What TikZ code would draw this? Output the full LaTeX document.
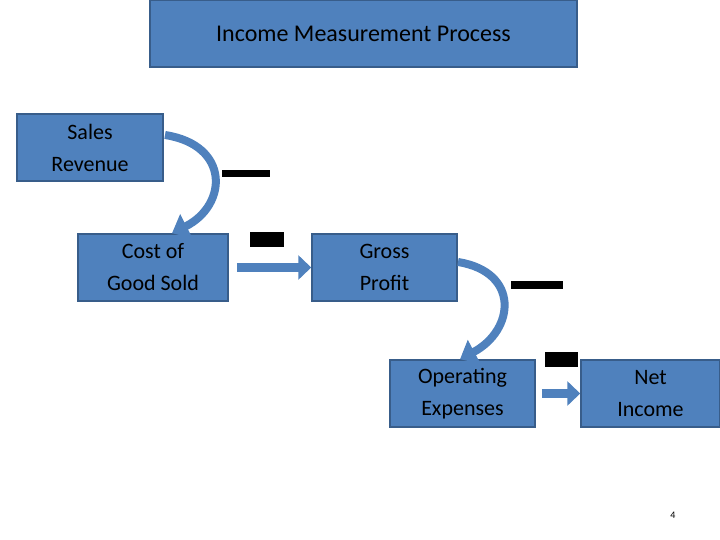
\documentclass[tikz,border=0pt]{standalone}
\usepackage{fontspec}
\setmainfont{Carlito}
\usetikzlibrary{arrows.meta}
\definecolor{bfill}{HTML}{4F81BD}
\definecolor{bedge}{HTML}{385D8A}
\tikzset{
  box/.style={draw=bedge, line width=1.5pt, fill=bfill, align=center, inner sep=0pt,
    font=\fontsize{22}{32}\selectfont},
  bar/.style={fill=black},
  blockarrow/.style={draw=bfill, line width=9pt, -{Triangle[length=13pt,width=24pt]}},
  curvearrow/.style={draw=bfill, line width=8pt, -{Triangle[length=16pt,width=26pt]}}
}
\begin{document}
\begin{tikzpicture}[x=1pt,y=-1pt]
\useasboundingbox (0,0) rectangle (720,540);
\node[box, minimum width=427pt, minimum height=67pt, font=\fontsize{24}{30}\selectfont] (t) at (363.5,33.5) {Income Measurement Process};
\node[box, minimum width=146pt, minimum height=67pt] (sr) at (90,147.5) {Sales\\Revenue};
\node[box, minimum width=150pt, minimum height=67pt] (cg) at (153,267.5) {Cost of\\Good Sold};
\node[box, minimum width=145pt, minimum height=67pt] (gp) at (384.5,267.5) {Gross\\Profit};
\node[box, minimum width=145pt, minimum height=67pt] (oe) at (462.5,393.5) {Operating\\Expenses};
\node[box, minimum width=139pt, minimum height=67pt] (ni) at (650.5,393.5) {Net\\Income};
\fill[bar] (222,170) rectangle (270,177);
\fill[bar] (250,232) rectangle (284,247);
\fill[bar] (511,281) rectangle (563,289);
\fill[bar] (545,352) rectangle (578,367);
\coordinate (c1s) at (165,135);
\coordinate (c2s) at (458,262);
\draw[curvearrow] (c1s) .. controls (230,145) and (228,205) .. (cg.north -| 172,0);
\draw[curvearrow] (c2s) .. controls (520,272) and (515,330) .. (oe.north -| 460,0);
\draw[blockarrow] (cg.east) ++(8,0) coordinate (a1) -- (gp.west) ;
\draw[blockarrow] (oe.east) ++(6,0) coordinate (a2) -- (ni.west);
\node[font=\fontsize{10}{12}\selectfont] (pn) at (673,515) {4};
\end{tikzpicture}
\end{document}
